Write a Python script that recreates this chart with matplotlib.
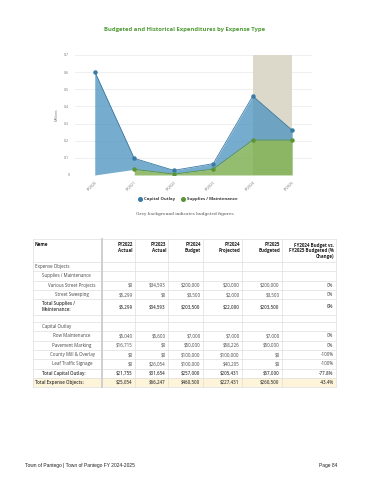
import matplotlib
matplotlib.use("Agg")
import matplotlib.pyplot as plt
import numpy as np

# ---------------- chart data ----------------
years = ["FY2020", "FY2021", "FY2022", "FY2023", "FY2024", "FY2025"]
capital_outlay = [0.603, 0.064, 0.0218, 0.0317, 0.257, 0.057]          # millions
supplies_maint = [np.nan, 0.033, 0.0053, 0.0346, 0.2035, 0.2035]       # millions
budget_start, budget_end = "FY2024", "FY2025"
y_ticks = [0, 0.1, 0.2, 0.3, 0.4, 0.5, 0.6, 0.7]
y_tick_labels = ["0", "0.1", "0.2", "0.3", "0.4", "0.5", "0.6", "0.7"]

# ---------------- table data ----------------
table_headers = ["Name", "FY2022\nActual", "FY2023\nActual", "FY2024\nBudget",
                 "FY2024\nProjected", "FY2025\nBudgeted",
                 "FY2024 Budget vs.\nFY2025 Budgeted (%\nChange)"]
row_names = ["Expense Objects", "Supplies / Maintenance", "Various Street Projects",
             "Street Sweeping", "Total Supplies /\nMaintenance:", "",
             "Capital Outlay", "Row Maintenance", "Pavement Marking",
             "County Mill & Overlay", "Leaf Traffic Signage",
             "Total Capital Outlay:", "Total Expense Objects:"]
row_kinds = ["group", "sub", "item", "item", "total", "blank",
             "sub", "item", "item", "item", "item", "total", "grand"]
fy2022_actual = ["", "", "$0", "$5,299", "$5,299", "", "", "$5,040", "$16,715", "$0", "$0", "$21,755", "$25,054"]
fy2023_actual = ["", "", "$34,593", "$0", "$34,593", "", "", "$5,600", "$0", "$0", "$26,054", "$31,654", "$66,247"]
fy2024_budget = ["", "", "$200,000", "$3,500", "$203,500", "", "", "$7,000", "$50,000", "$100,000", "$100,000", "$257,000", "$460,500"]
fy2024_projected = ["", "", "$20,000", "$2,000", "$22,000", "", "", "$7,000", "$58,226", "$100,000", "$40,205", "$205,431", "$227,431"]
fy2025_budgeted = ["", "", "$200,000", "$3,500", "$203,500", "", "", "$7,000", "$50,000", "$0", "$0", "$57,000", "$260,500"]
pct_change = ["", "", "0%", "0%", "0%", "", "", "0%", "0%", "-100%", "-100%", "-77.8%", "-43.4%"]

W, H = 370, 480
fig = plt.figure(figsize=(W / 100, H / 100), dpi=100)
fig.patch.set_facecolor("white")

BLUE = "#4f95bf"
BLUE_LINE = "#3b7aa3"
GREEN = "#76ab47"
GREEN_LINE = "#5a9436"
BAND = "#dcd9ca"
FONT = "Open Sans"

# ---------------- chart ----------------
ax = fig.add_axes([75 / W, 1 - 175 / H, 237 / W, 120 / H])
x = np.arange(len(years))
cap = np.array(capital_outlay)
sup = np.array(supplies_maint, dtype=float)
sup0 = np.nan_to_num(sup)
total = sup0 + cap

b0, b1 = years.index(budget_start), years.index(budget_end)
ax.axvspan(b0, b1, ymin=0, ymax=1, color=BAND, lw=0, zorder=1)
for t in y_ticks:
    ax.axhline(t, color="#ececec", lw=0.6, zorder=0.5)

valid = ~np.isnan(sup)
ax.fill_between(x[valid], 0, sup[valid], color=GREEN, alpha=0.78, lw=0, zorder=2)
ax.fill_between(x, sup0, total, color=BLUE, alpha=0.78, lw=0, zorder=2)
ax.plot(x, total, color=BLUE_LINE, lw=0.6, marker="o", ms=2.2, zorder=3)
ax.plot(x[valid], sup[valid], color=GREEN_LINE, lw=0.6, marker="o", ms=2.2, zorder=3)

ax.set_xlim(-0.5, len(years) - 0.5)
ax.set_ylim(0, 0.7)
ax.set_yticks(y_ticks)
ax.set_yticklabels(y_tick_labels, fontsize=2.6, color="#777777", family=FONT)
ax.set_xticks(x)
ax.set_xticklabels(years, rotation=45, ha="right", va="top", fontsize=2.6,
                   color="#777777", family=FONT, rotation_mode="anchor")
ax.tick_params(axis="both", length=0, pad=4)
ax.set_ylabel("Millions", fontsize=2.6, color="#777777", family=FONT, labelpad=4)
for s in ax.spines.values():
    s.set_visible(False)

# ---------------- overlay for texts and table ----------------
tax = fig.add_axes([0, 0, 1, 1], zorder=5)
tax.set_xlim(0, W)
tax.set_ylim(H, 0)
tax.axis("off")

tax.text(185, 30, "Budgeted and Historical Expenditures by Expense Type",
         ha="center", va="center", fontsize=4.2, fontweight="bold",
         color="#4f9a35", family=FONT)

# legend
tax.plot([140], [199], "o", color=BLUE_LINE, ms=2.6)
tax.text(144, 199, "Capital Outlay", ha="left", va="center", fontsize=3.1,
         fontweight="bold", color="#333333", family=FONT)
tax.plot([183], [199], "o", color=GREEN_LINE, ms=2.6)
tax.text(187, 199, "Supplies / Maintenance", ha="left", va="center", fontsize=3.1,
         fontweight="bold", color="#333333", family=FONT)

tax.text(185, 214.5, "Grey background indicates budgeted figures.", ha="center",
         va="center", fontsize=3.1, color="#555555", family="DejaVu Serif")

# table
col_edges = [33, 102, 135, 168, 203, 242, 282, 336]
top, head_bot = 239, 262
row_h = {"group": 9.3, "sub": 9.3, "item": 9.3, "total": 9.3, "blank": 7.5, "grand": 9.3}
heights = []
for name, kind in zip(row_names, row_kinds):
    h = row_h[kind]
    if "\n" in name:
        h = 15.3
    heights.append(h)
bounds = [head_bot]
for h in heights:
    bounds.append(bounds[-1] + h)
bottom = bounds[-1]

# grand total background
gi = row_kinds.index("grand")
tax.fill_between([col_edges[0], col_edges[-1]], bounds[gi], bounds[gi + 1],
                 color="#fdf4d9", lw=0, zorder=1)

LC = "#dedede"
for yb in [top] + bounds:
    tax.plot([col_edges[0], col_edges[-1]], [yb, yb], color=LC, lw=0.5, zorder=2)
for i, xe in enumerate(col_edges):
    if i == 1:
        tax.plot([xe, xe], [top, bottom], color="#cfcfcf", lw=1.4, zorder=2)
    else:
        tax.plot([xe, xe], [top, bottom], color=LC, lw=0.5, zorder=2)

TFS = 3.25
for j, hdr in enumerate(table_headers):
    if j == 0:
        tax.text(col_edges[0] + 2, 242.5, hdr, ha="left", va="top", fontsize=TFS,
                 fontweight="bold", color="#222222", family=FONT, linespacing=1.2)
    else:
        tax.text(col_edges[j + 1] - 2, 242.5, hdr, ha="right", va="top", fontsize=TFS,
                 fontweight="bold", color="#222222", family=FONT, multialignment="right",
                 linespacing=1.2)

value_cols = [fy2022_actual, fy2023_actual, fy2024_budget, fy2024_projected,
              fy2025_budgeted, pct_change]
for i, (name, kind) in enumerate(zip(row_names, row_kinds)):
    yc = (bounds[i] + bounds[i + 1]) / 2
    bold = kind in ("total", "grand")
    col = "#444444"
    weight = "semibold" if bold else "normal"
    if kind == "group":
        tax.text(35, yc, name, ha="left", va="center", fontsize=TFS, color=col, family=FONT)
    elif kind == "sub":
        tax.text(42, yc, name, ha="left", va="center", fontsize=TFS, color=col, family=FONT)
    elif kind == "item":
        tax.text(72, yc, name, ha="center", va="center", fontsize=TFS, color=col, family=FONT)
    elif kind == "total":
        tax.text(42, yc, name, ha="left", va="center", fontsize=TFS, color="#333333",
                 family=FONT, fontweight=weight, linespacing=1.3)
    elif kind == "grand":
        tax.text(35, yc, name, ha="left", va="center", fontsize=TFS, color="#333333",
                 family=FONT, fontweight=weight)
    for j, vals in enumerate(value_cols):
        v = vals[i]
        if v:
            tax.text(col_edges[j + 2] - 2.5, yc, v, ha="right", va="center", fontsize=TFS,
                     color="#444444", family=FONT, fontweight=weight)

# footer
tax.text(25, 465.5, "Town of Pantego | Town of Pantego FY 2024-2025", ha="left",
         va="center", fontsize=3.5, color="#222222", family="Liberation Sans")
tax.text(337, 465.5, "Page 84", ha="right", va="center", fontsize=3.5,
         color="#222222", family="Liberation Sans")

fig.savefig("out.png", dpi=100)
